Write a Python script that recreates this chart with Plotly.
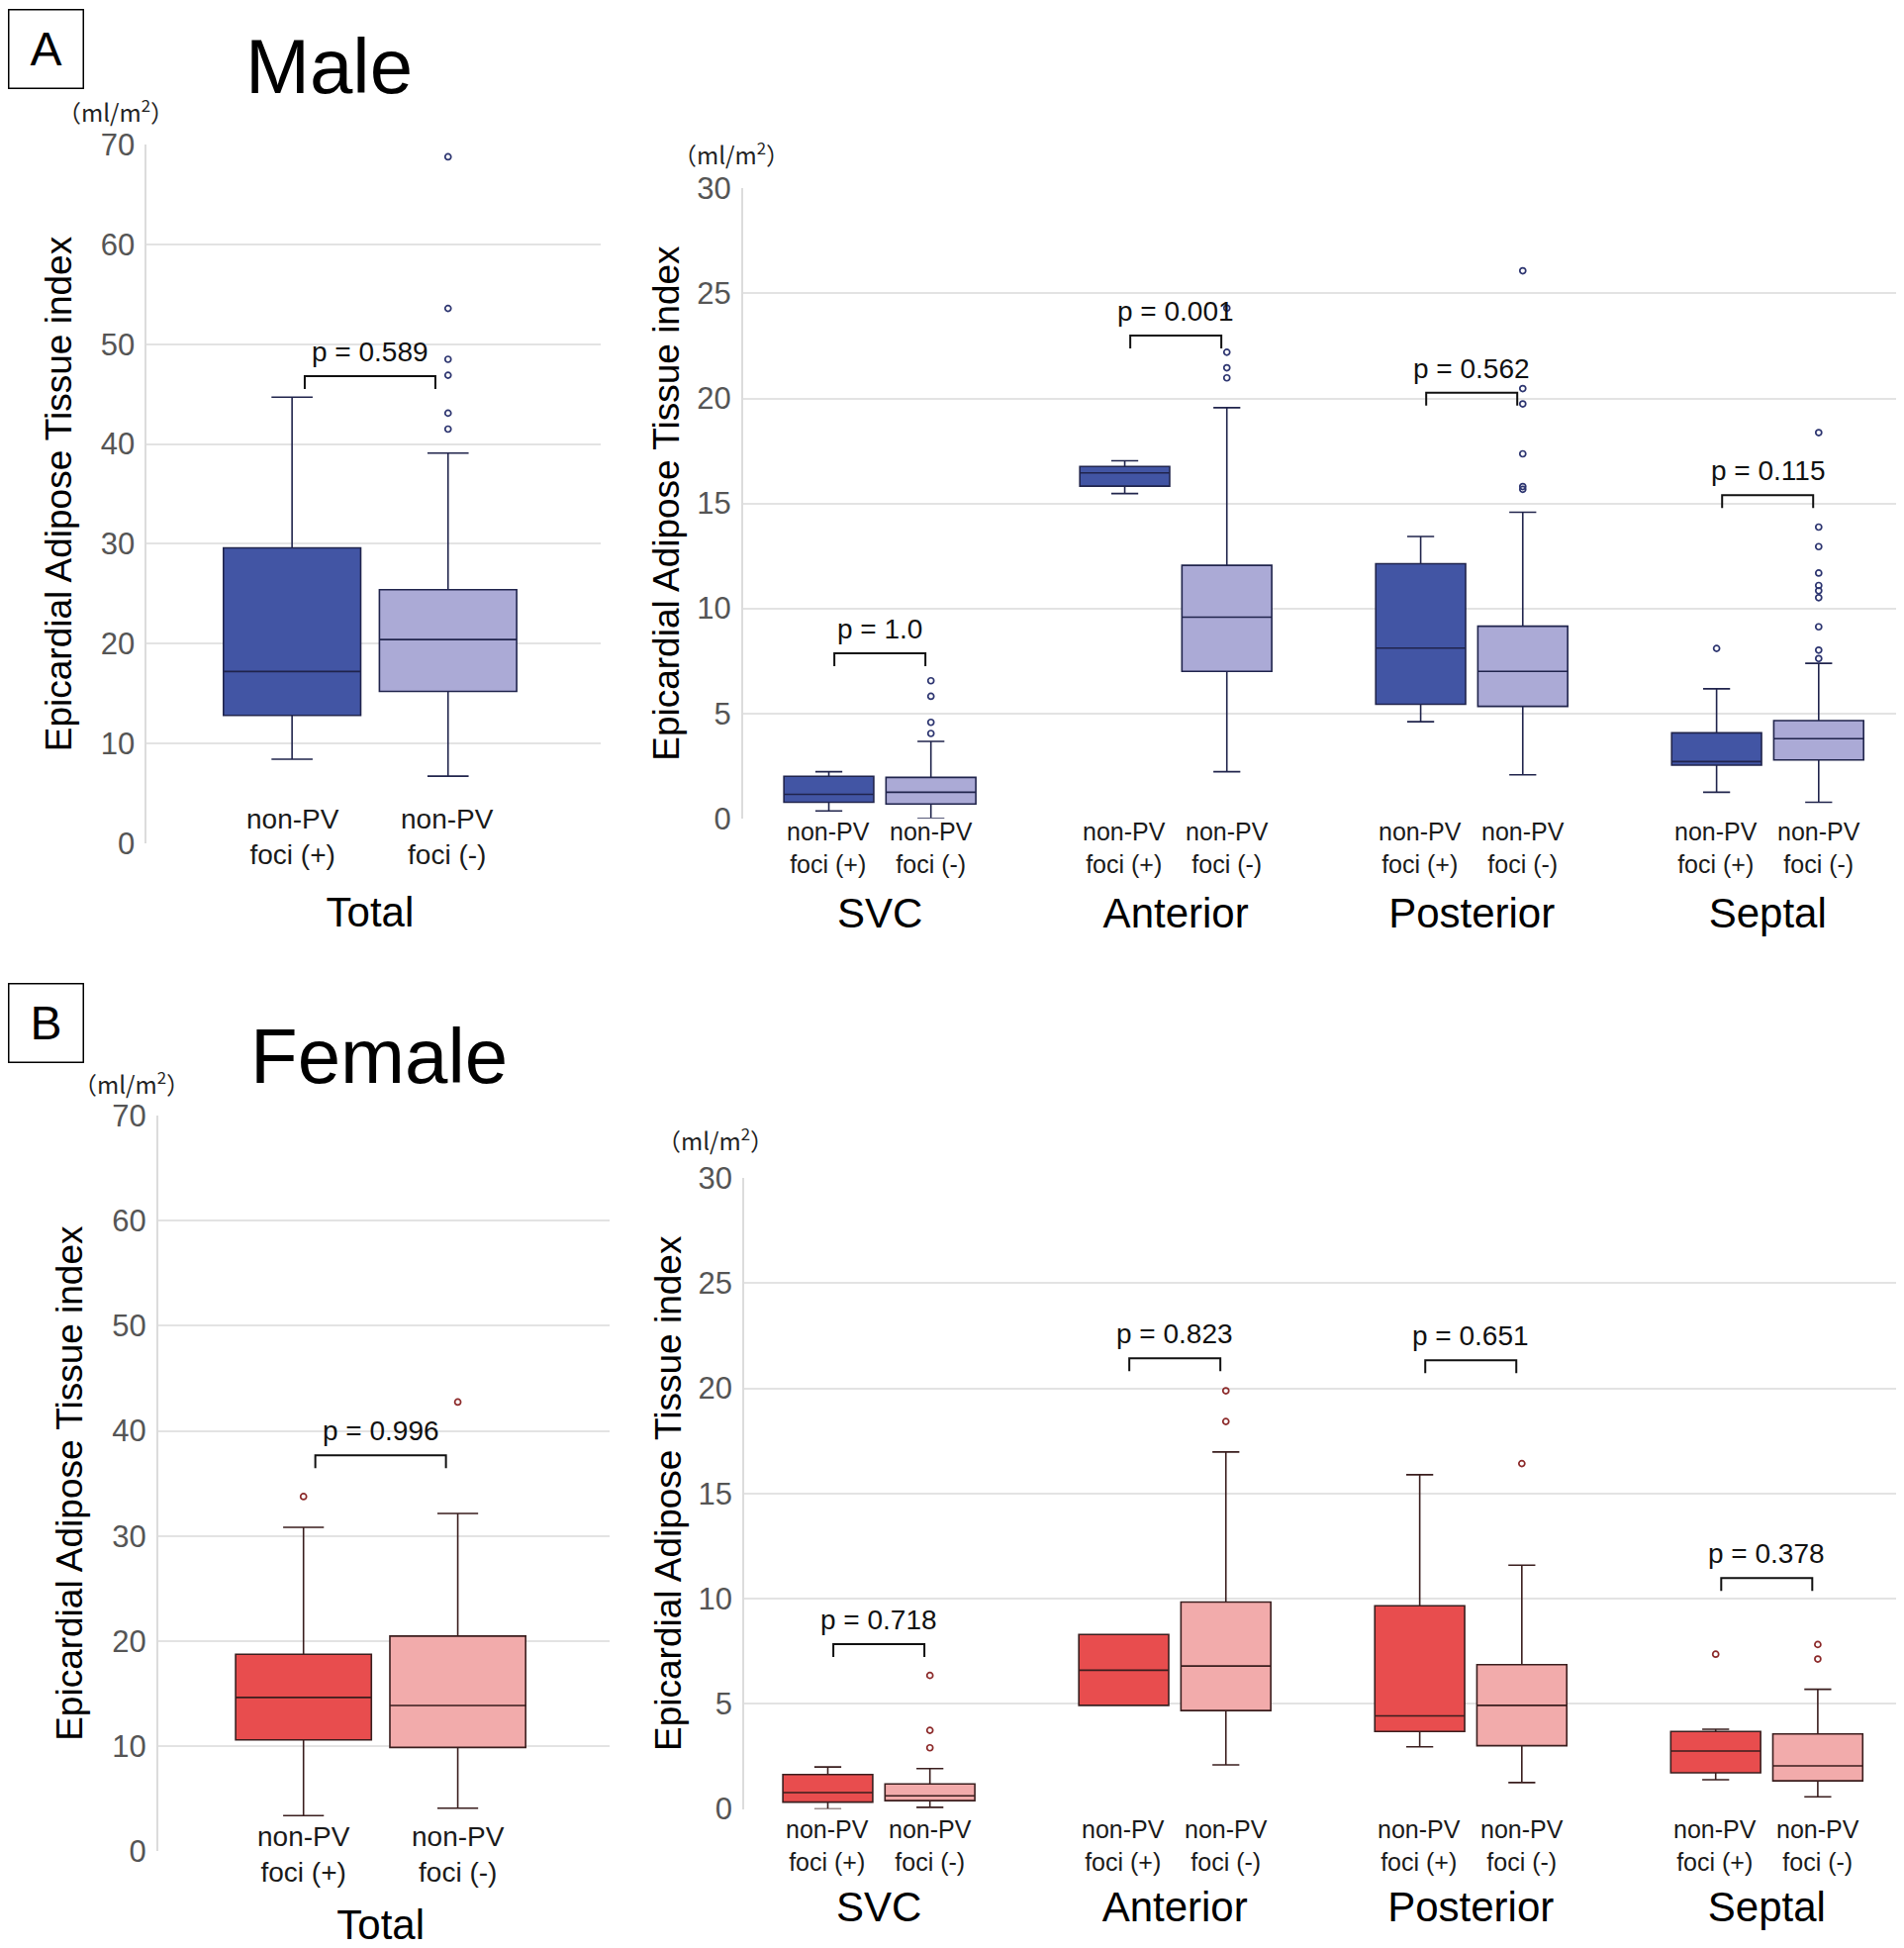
import plotly.graph_objects as go

# categories
regions = ["SVC", "Anterior", "Posterior", "Septal"]
total_cat = ["Total"]

# box stats: [lower whisker, q1, median, q3, upper whisker]
male_total_pos = [8.4, 12.8, 17.2, 29.6, 44.7]
male_total_neg = [6.7, 15.2, 20.4, 25.4, 39.1]
male_total_pos_out = []
male_total_neg_out = [68.8, 53.6, 48.5, 46.9, 43.1, 41.5]
male_total_p = "p = 0.589"
male_total_p_y = 46.8

male_region_pos = [
    [0.35, 0.76, 1.14, 2.0, 2.22],
    [15.47, 15.82, 16.45, 16.76, 17.03],
    [4.6, 5.43, 8.11, 12.13, 13.42],
    [1.24, 2.53, 2.70, 4.07, 6.17],
]
male_region_neg = [
    [0.0, 0.68, 1.24, 1.95, 3.66],
    [2.22, 7.0, 9.58, 12.05, 19.56],
    [2.07, 5.33, 7.0, 9.15, 14.58],
    [0.76, 2.78, 3.79, 4.65, 7.38],
]
male_region_pos_out = [[], [], [], [8.09]]
male_region_neg_out = [
    [6.55, 5.81, 4.57, 4.04],
    [24.3, 22.2, 21.46, 20.98],
    [26.08, 20.47, 19.74, 17.36, 15.8, 15.67],
    [18.37, 13.87, 12.94, 11.68, 11.09, 10.84, 10.51, 9.12, 8.01, 7.61],
]
male_region_p = ["p = 1.0", "p = 0.001", "p = 0.562", "p = 0.115"]
male_region_p_y = [7.86, 23.0, 20.27, 15.39]

female_total_pos = [3.39, 10.6, 14.64, 18.75, 30.83]
female_total_neg = [4.1, 9.88, 13.87, 20.48, 32.14]
female_total_pos_out = [33.75]
female_total_neg_out = [42.74]
female_total_p = "p = 0.996"
female_total_p_y = 37.68

female_region_pos = [
    [0.0, 0.33, 0.78, 1.64, 2.0],
    [4.93, 4.93, 6.60, 8.30, 8.30],
    [2.96, 3.69, 4.43, 9.66, 15.89],
    [1.39, 1.72, 2.76, 3.69, 3.79],
]
female_region_neg = [
    [0.08, 0.40, 0.63, 1.19, 1.92],
    [2.10, 4.68, 6.80, 9.84, 16.97],
    [1.26, 3.01, 4.93, 6.86, 11.59],
    [0.58, 1.34, 2.05, 3.57, 5.69],
]
female_region_pos_out = [[], [], [], [7.36]]
female_region_neg_out = [
    [6.35, 3.74, 2.91],
    [19.88, 18.42],
    [16.42],
    [7.82, 7.13],
]
female_region_p = ["p = 0.718", "p = 0.823", "p = 0.651", "p = 0.378"]
female_region_p_y = [7.84, 21.43, 21.33, 10.98]

group_labels = ["non-PV<br>foci (+)", "non-PV<br>foci (-)"]

FONT = "Liberation Sans"
MALE = dict(dark="#4255a4", light="#abaad6", line="#20244c", out="#2d3570")
FEMALE = dict(dark="#e84d4e", light="#f2abab", line="#3a1e1e", out="#8c2a2a")

# page offset correction (paper fractions)
DX = -0.0042
DY = 0.0051

fig = go.Figure()


def add_panel(ax, cats, pos, neg, pos_out, neg_out, pal):
    xa = "x" if ax == 1 else "x%d" % ax
    ya = "y" if ax == 1 else "y%d" % ax
    for stats, outs, fill, grp in [(pos, pos_out, pal["dark"], "pos"),
                                   (neg, neg_out, pal["light"], "neg")]:
        fig.add_trace(go.Box(
            x=cats,
            lowerfence=[s[0] for s in stats],
            q1=[s[1] for s in stats],
            median=[s[2] for s in stats],
            q3=[s[3] for s in stats],
            upperfence=[s[4] for s in stats],
            fillcolor=fill, line=dict(color=pal["line"], width=1.6),
            whiskerwidth=0.3, boxpoints=False, offsetgroup=grp,
            xaxis=xa, yaxis=ya, showlegend=False, hoverinfo="skip"))
        ox, oy = [], []
        for c, vals in zip(cats, outs):
            ox += [c] * len(vals)
            oy += vals
        if not ox:
            ox, oy = [cats[0]], [None]
        fig.add_trace(go.Scatter(
            x=ox, y=oy, mode="markers", offsetgroup=grp, orientation="v",
            marker=dict(symbol="circle-open", size=6,
                        line=dict(width=1.7, color=pal["out"]), color=pal["out"]),
            xaxis=xa, yaxis=ya, showlegend=False, hoverinfo="skip"))


add_panel(1, total_cat, [male_total_pos], [male_total_neg],
          [male_total_pos_out], [male_total_neg_out], MALE)
add_panel(2, regions, male_region_pos, male_region_neg,
          male_region_pos_out, male_region_neg_out, MALE)
add_panel(3, total_cat, [female_total_pos], [female_total_neg],
          [female_total_pos_out], [female_total_neg_out], FEMALE)
add_panel(4, regions, female_region_pos, female_region_neg,
          female_region_pos_out, female_region_neg_out, FEMALE)

annotations = []
shapes = []


def add_labels(ax, cats, ps, pys, shift, half, lab_size, lab_y):
    xa = "x" if ax == 1 else "x%d" % ax
    ya = "y" if ax == 1 else "y%d" % ax
    for c, p, py in zip(cats, ps, pys):
        for lab, sgn in zip(group_labels, [-1, 1]):
            annotations.append(dict(
                x=c, y=0, xref=xa, yref=ya, text=lab, showarrow=False,
                xshift=sgn * shift, yshift=lab_y, yanchor="middle",
                font=dict(family=FONT, size=lab_size, color="#1a1a1a")))
        annotations.append(dict(
            x=c, y=py, xref=xa, yref=ya, text=p, showarrow=False,
            yanchor="bottom", yshift=7,
            font=dict(family=FONT, size=28, color="#111")))
        shapes.append(dict(
            type="path", xref=xa, yref=ya, xsizemode="pixel", ysizemode="pixel",
            xanchor=c, yanchor=py,
            path="M %d,-13 L %d,0 L %d,0 L %d,-13" % (-half, -half, half, half),
            line=dict(color="#111", width=2)))


add_labels(1, total_cat, [male_total_p], [male_total_p_y], 78, 66, 28, 6)
add_labels(2, regions, male_region_p, male_region_p_y, 52, 46, 25, -30)
add_labels(3, total_cat, [female_total_p], [female_total_p_y], 78, 66, 28, -3)
add_labels(4, regions, female_region_p, female_region_p_y, 52, 46, 25, -37)

# panel letters and titles
for letter, y in [("A", 0.974), ("B", 0.474)]:
    annotations.append(dict(
        x=0.0244 + DX, y=y + DY, xref="paper", yref="paper", text=letter,
        showarrow=False, xanchor="center", yanchor="middle",
        font=dict(family=FONT, size=48, color="black"),
        bordercolor="black", borderwidth=1.5, borderpad=8,
        width=58, height=62))
for title, x, y in [("Male", 0.173, 0.965), ("Female", 0.199, 0.457)]:
    annotations.append(dict(
        x=x + DX, y=y + DY, xref="paper", yref="paper", text=title,
        showarrow=False, xanchor="center", yanchor="middle",
        font=dict(family=FONT, size=78, color="black")))
for x, y in [(0.061, 0.942), (0.384, 0.920), (0.069, 0.443), (0.376, 0.414)]:
    annotations.append(dict(
        x=x + DX, y=y + DY, xref="paper", yref="paper", text="（ml/m<sup>2</sup>）",
        xanchor="center", yanchor="middle", showarrow=False,
        font=dict(family="Noto Sans CJK JP", size=24, color="#222")))

yax = dict(
    showgrid=True, gridcolor="#e3e3e3", gridwidth=1.5, zeroline=False,
    showline=True, linecolor="#dcdcdc", linewidth=1.5, ticklabelstandoff=4,
    tickfont=dict(family=FONT, size=31, color="#555"),
    title=dict(text="Epicardial Adipose Tissue index",
               font=dict(family=FONT, size=37, color="black")),
)
xax = dict(
    showgrid=False, zeroline=False, showline=False, ticks="",
    tickfont=dict(family=FONT, size=42, color="black"),
)


def dom_x(a, b):
    return [a + DX, b + DX]


def dom_y(a, b):
    return [a + DY, b + DY]


fig.update_layout(
    width=1924, height=1968,
    margin=dict(l=0, r=0, t=0, b=0, autoexpand=False),
    plot_bgcolor="white", paper_bgcolor="white",
    boxmode="group", boxgap=0.31, boxgroupgap=0.12,
    scattermode="group", scattergap=0.31,
    xaxis=dict(xax, domain=dom_x(0.0771, 0.3155), anchor="y", range=[-0.494, 0.51],
               ticklabelstandoff=41),
    yaxis=dict(yax, domain=dom_y(0.5662, 0.9246), anchor="x", range=[0, 70], dtick=10,
               title_standoff=18),
    xaxis2=dict(xax, domain=dom_x(0.3902, 0.9979), anchor="y2", range=[-0.463, 3.447],
                ticklabelstandoff=67),
    yaxis2=dict(yax, domain=dom_y(0.5789, 0.9022), anchor="x2", range=[0, 30], dtick=5,
                title_standoff=6),
    xaxis3=dict(xax, domain=dom_x(0.0830, 0.3202), anchor="y3", range=[-0.498, 0.512],
                ticklabelstandoff=46),
    yaxis3=dict(yax, domain=dom_y(0.0486, 0.4263), anchor="x3", range=[0, 70], dtick=10,
                title_standoff=18),
    xaxis4=dict(xax, domain=dom_x(0.3909, 0.9979), anchor="y4", range=[-0.455, 3.45],
                ticklabelstandoff=70),
    yaxis4=dict(yax, domain=dom_y(0.0703, 0.3943), anchor="x4", range=[0, 30], dtick=5,
                title_standoff=6),
    annotations=annotations,
    shapes=shapes,
)

fig.write_html("out.html")
